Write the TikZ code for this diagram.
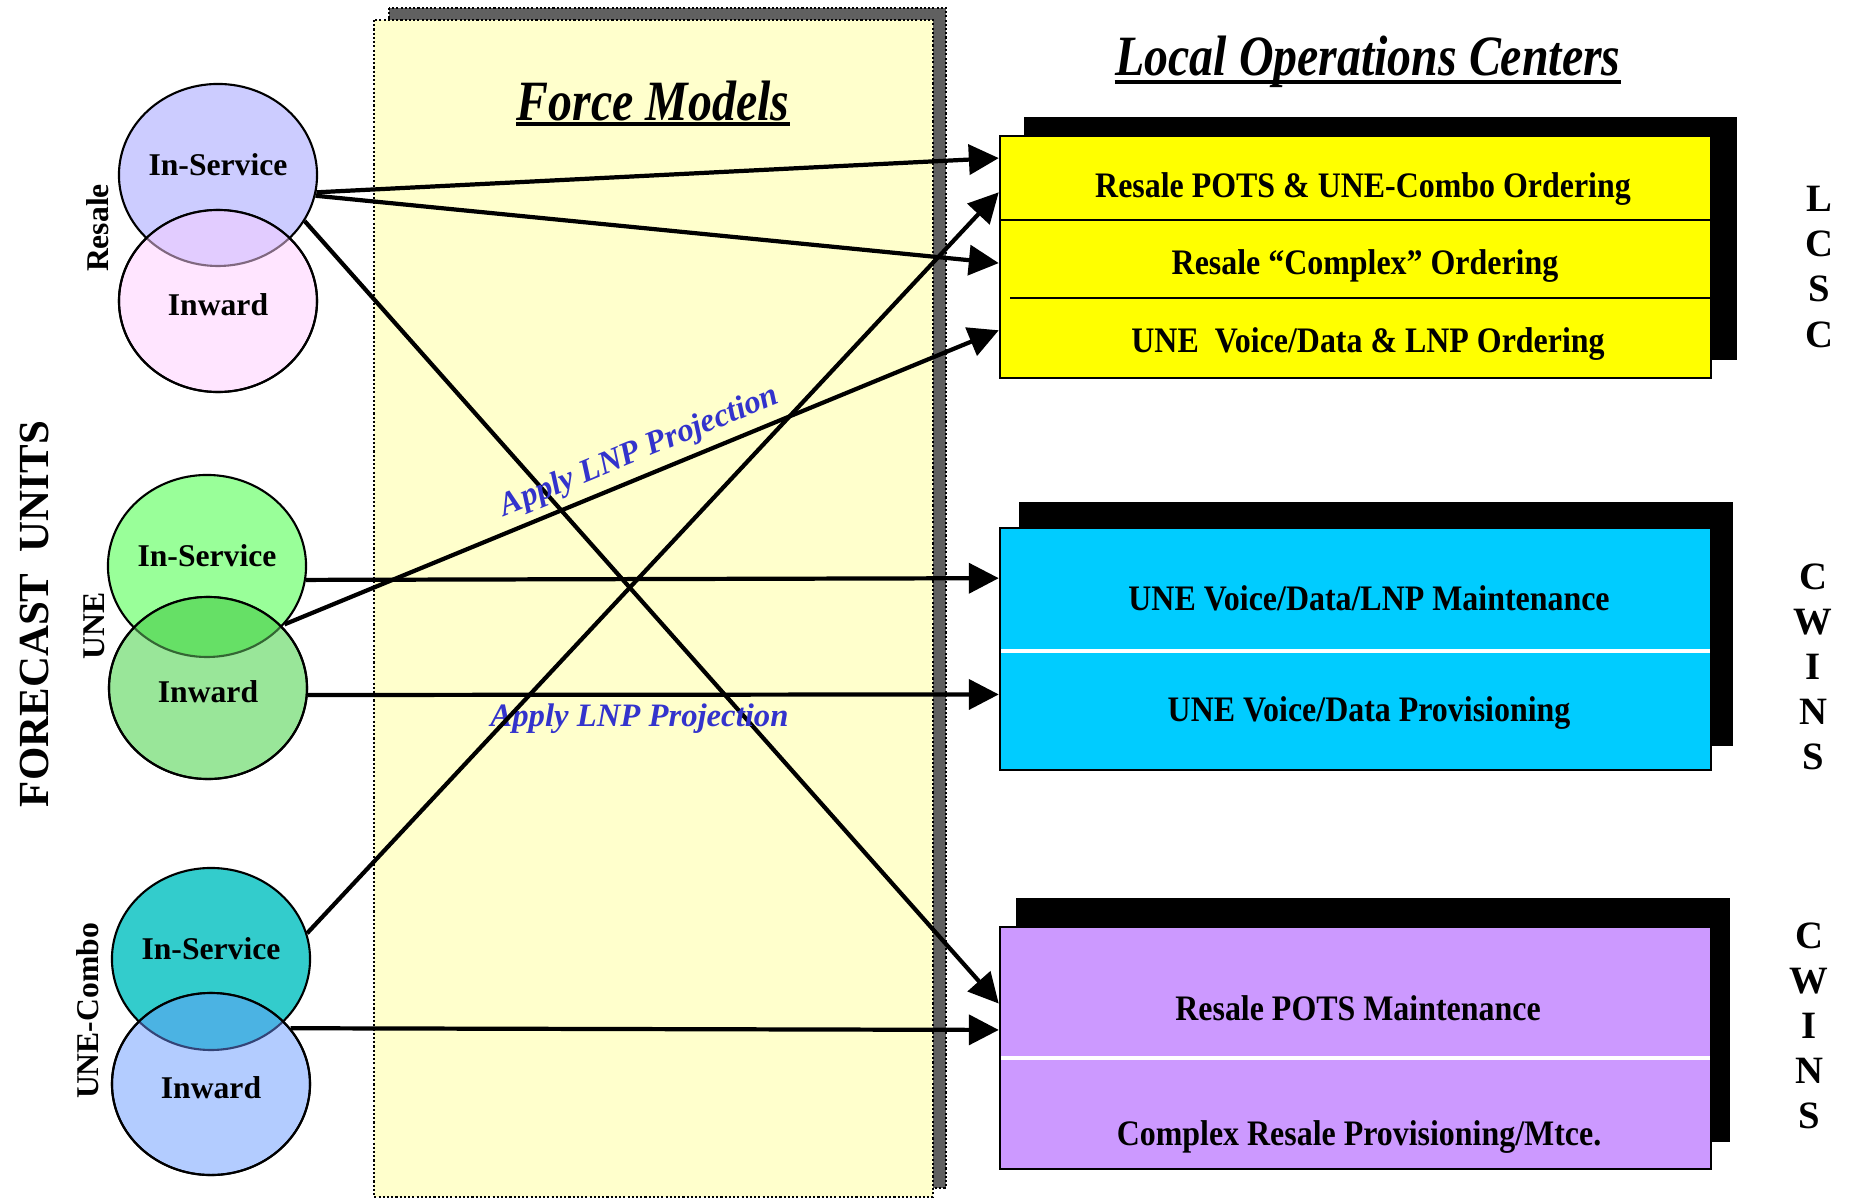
\documentclass[tikz,border=0pt]{standalone}
\usepackage{fontspec}
\setmainfont{Liberation Serif}
\newfontfamily\condfont[FakeStretch=0.89]{Liberation Serif}
\newfontfamily\headfont[FakeStretch=0.84]{Liberation Serif}
\usepackage{tikz}
\usetikzlibrary{arrows.meta,positioning,shapes.geometric,calc}
\definecolor{fmyellow}{RGB}{255,255,204}
\definecolor{fmshadow}{RGB}{96,96,96}
\definecolor{lcyellow}{RGB}{255,255,0}
\definecolor{cwcyan}{RGB}{0,204,255}
\definecolor{rspurple}{RGB}{204,153,255}
\definecolor{rsin}{RGB}{204,204,255}
\definecolor{rsinw}{RGB}{255,229,255}
\definecolor{rsmix}{RGB}{226,204,255}
\definecolor{rsarc}{RGB}{128,104,128}
\definecolor{unein}{RGB}{153,255,153}
\definecolor{uneinw}{RGB}{153,230,153}
\definecolor{unemix}{RGB}{102,224,102}
\definecolor{unearc}{RGB}{51,102,51}
\definecolor{cbin}{RGB}{51,204,204}
\definecolor{cbinw}{RGB}{179,204,255}
\definecolor{cbmix}{RGB}{75,179,227}
\definecolor{cbarc}{RGB}{51,68,119}
\definecolor{lnpblue}{RGB}{51,51,204}
\tikzset{
  fcircle/.style={draw, ellipse, fill=#1, line width=0.6pt, inner sep=0pt,
                  minimum width=1.98cm, minimum height=1.82cm,
                  font=\fontsize{9}{10}\selectfont\bfseries},
  upper/.style={fcircle=#1, text height=3pt, text depth=2.6pt},
  lower/.style={fcircle=#1, text height=8pt, text depth=0pt},
  opsbox/.style={draw, fill=#1, line width=0.6pt, inner sep=0pt,
                 minimum width=7.11cm, minimum height=2.42cm},
  boxtext/.style={font=\condfont\fontsize{10.2}{11}\selectfont\bfseries},
  headline/.style={font=\headfont\fontsize{16.2}{17}\selectfont\bfseries\itshape, inner sep=0pt},
  sidelabel/.style={rotate=90, font=\fontsize{9}{10}\selectfont\bfseries},
  centerlabel/.style={align=center, font=\fontsize{11}{12.8}\selectfont\bfseries},
  lnp/.style={font=\fontsize{9.3}{10}\selectfont\bfseries\itshape, text=lnpblue, inner sep=2pt},
  flow/.style={line width=1.2pt, -{Triangle[length=8.5pt,width=8.5pt]}},
  panel/.style={dash pattern=on 0.6pt off 0.6pt, line width=0.6pt},
}
\begin{document}
\begin{tikzpicture}[x=0.01cm, y=-0.01cm]
  \useasboundingbox (0,0) rectangle (1852,1200);

  % Force models panel
  \draw[panel, fill=fmshadow] (389,8) rectangle (946,1188);
  \draw[panel, fill=fmyellow] (374,20) rectangle (933,1197);
  \node[headline, anchor=base] (fmTitle) at (653,120) {Force Models};
  \draw[line width=1.3pt] ($(fmTitle.base west)+(0,4)$) -- ($(fmTitle.base east)+(0,4)$);

  % Local operations centers
  \node[headline, anchor=base] (locTitle) at (1368,75) {Local Operations Centers};
  \draw[line width=1.3pt] ($(locTitle.base west)+(0,7)$) -- ($(locTitle.base east)+(0,7)$);

  \fill (1024,117) rectangle (1737,360);
  \node[opsbox=lcyellow] (lcsc) at (1355.5,257) {};
  \draw[line width=0.7pt] (1000,220) -- (1711,220);
  \draw[line width=0.7pt] (1010,298) -- (1711,298);
  \node[boxtext] (lcRow1) at (1363,189) {Resale POTS \& UNE-Combo Ordering};
  \node[boxtext] (lcRow2) at (1365,266) {Resale “Complex” Ordering};
  \node[boxtext] (lcRow3) at (1368,344) {UNE\ \ Voice/Data \& LNP Ordering};

  \fill (1019,502) rectangle (1733,746);
  \node[opsbox=cwcyan] (cwins) at (1355.5,649) {};
  \draw[white, line width=1.2pt] (1001,651) -- (1710,651);
  \node[boxtext] (cwRow1) at (1369,598) {UNE Voice/Data/LNP Maintenance};
  \node[boxtext] (cwRow2) at (1369,713) {UNE Voice/Data Provisioning};

  \fill (1016,898) rectangle (1730,1142);
  \node[opsbox=rspurple] (rsbox) at (1355.5,1048) {};
  \draw[white, line width=1.2pt] (1001,1058) -- (1710,1058);
  \node[boxtext] (rsRow1) at (1358,1008) {Resale POTS Maintenance};
  \node[boxtext] (rsRow2) at (1359,1137) {Complex Resale Provisioning/Mtce.};

  \node[centerlabel] (lcscTag) at (1819,267) {L\\C\\S\\C};
  \node[centerlabel] (cwinsTag) at (1813,667) {C\\W\\I\\N\\S};
  \node[centerlabel] (cwinsTagB) at (1809,1026) {C\\W\\I\\N\\S};

  % Forecast units
  \node[rotate=90, font=\fontsize{12.2}{14}\selectfont\bfseries] (fcTitle) at (35,614) {FORECAST\ \ UNITS};

  \node[upper=rsin] (rsIn) at (218,175) {In-Service};
  \node[lower=rsinw] (rsInw) at (218,301) {Inward};
  \begin{scope}
    \clip (rsInw.center) ellipse [x radius=99, y radius=91];
    \fill[rsmix] (rsIn.center) ellipse [x radius=99, y radius=91];
    \draw[rsarc, line width=0.6pt] (rsIn.center) ellipse [x radius=99, y radius=91];
  \end{scope}
  \draw[line width=0.6pt] (rsInw.center) ellipse [x radius=99, y radius=91];
  \node[sidelabel] (rsLabel) at (98,228) {Resale};

  \node[upper=unein] (uneIn) at (207,566) {In-Service};
  \node[lower=uneinw] (uneInw) at (208,688) {Inward};
  \begin{scope}
    \clip (uneInw.center) ellipse [x radius=99, y radius=91];
    \fill[unemix] (uneIn.center) ellipse [x radius=99, y radius=91];
    \draw[unearc, line width=0.6pt] (uneIn.center) ellipse [x radius=99, y radius=91];
  \end{scope}
  \draw[line width=0.6pt] (uneInw.center) ellipse [x radius=99, y radius=91];
  \node[sidelabel] (uneLabel) at (94,626) {UNE};

  \node[upper=cbin] (cbIn) at (211,959) {In-Service};
  \node[lower=cbinw] (cbInw) at (211,1084) {Inward};
  \begin{scope}
    \clip (cbInw.center) ellipse [x radius=99, y radius=91];
    \fill[cbmix] (cbIn.center) ellipse [x radius=99, y radius=91];
    \draw[cbarc, line width=0.6pt] (cbIn.center) ellipse [x radius=99, y radius=91];
  \end{scope}
  \draw[line width=0.6pt] (cbInw.center) ellipse [x radius=99, y radius=91];
  \node[sidelabel] (cbLabel) at (88,1011) {UNE-Combo};

  % Flows to the centers
  \draw[flow] (rsIn.-10) -- ($(lcsc.north west)!0.095!(lcsc.south west)$);
  \draw[flow] (rsIn.-12) -- ($(lcsc.north west)!0.525!(lcsc.south west)$);
  \draw[flow] (rsIn.-28) -- ($(rsbox.north west)!0.318!(rsbox.south west)$);
  \draw[flow] (uneIn.-8) -- ($(cwins.north west)!0.21!(cwins.south west)$);
  \draw[flow] (uneIn.-37) -- node[lnp, sloped, above, pos=0.51] {Apply LNP Projection}
        ($(lcsc.north west)!0.80!(lcsc.south west)$);
  \draw[flow] (uneInw.-4) -- node[lnp, below, pos=0.48] {Apply LNP Projection}
        ($(cwins.north west)!0.686!(cwins.south west)$);
  \draw[flow] (cbIn.15) -- ($(lcsc.north west)!0.235!(lcsc.south west)$);
  \draw[flow] (cbInw.35) -- ($(rsbox.north west)!0.426!(rsbox.south west)$);

\end{tikzpicture}
\end{document}
